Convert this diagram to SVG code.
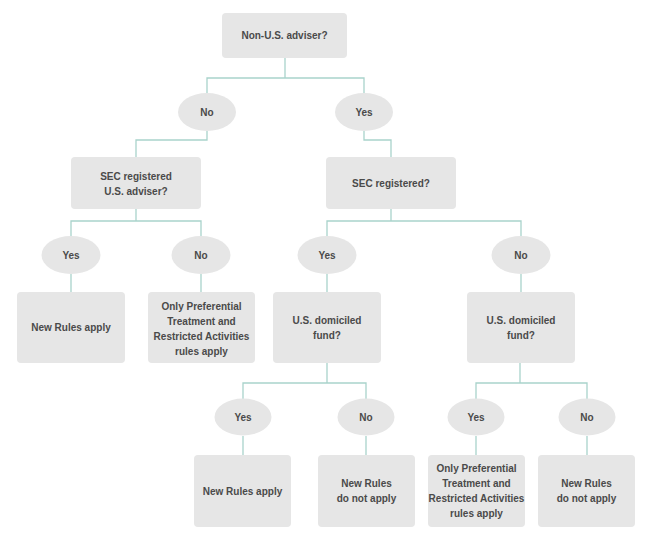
<svg xmlns="http://www.w3.org/2000/svg" width="650" height="542" viewBox="0 0 650 542">
<style>
.b{fill:#e6e6e6;}
.t{font-family:"Liberation Sans",Arial,sans-serif;font-size:10px;font-weight:bold;fill:#4a4a4a;text-anchor:middle;}
.c{fill:none;stroke:#a9d3cb;stroke-width:1.3;}
</style>
<rect width="650" height="542" fill="#ffffff"/>
<g id="connectors" class="c">
<path d="M285 58V78M207 93V78H364V93"/>
<path d="M207 131V140H136V157M364 131V140H391V157"/>
<path d="M136 209V221M71 236V221H201V236M71 274V292M201 274V292"/>
<path d="M391 209V221M327 236V221H521V236M327 274V292M521 274V292"/>
<path d="M327 363V383M243 399V383H366V399M243 436V455M366 436V455"/>
<path d="M520 363V383M476 399V383H587V399M476 436V455M587 436V455"/>
</g>
<g id="n-root"><rect class="b" x="222" y="13" width="125" height="45" rx="4"/><text class="t" x="284.5" y="39">Non-U.S. adviser?</text></g>
<g id="n-no1"><ellipse class="b" cx="207" cy="112" rx="29" ry="19"/><text class="t" x="207" y="115.5">No</text></g>
<g id="n-yes1"><ellipse class="b" cx="364" cy="112" rx="29" ry="19"/><text class="t" x="364" y="115.5">Yes</text></g>
<g id="n-secus"><rect class="b" x="71" y="157" width="130" height="52" rx="4"/><text class="t" x="136" y="179.5">SEC registered</text><text class="t" x="136" y="195">U.S. adviser?</text></g>
<g id="n-sec"><rect class="b" x="326" y="157" width="130" height="52" rx="4"/><text class="t" x="391" y="186.5">SEC registered?</text></g>
<g id="n-yes2"><ellipse class="b" cx="71" cy="255" rx="29.5" ry="19"/><text class="t" x="71" y="258.5">Yes</text></g>
<g id="n-no2"><ellipse class="b" cx="201" cy="255" rx="29.5" ry="19"/><text class="t" x="201" y="258.5">No</text></g>
<g id="n-yes3"><ellipse class="b" cx="327" cy="255" rx="29.5" ry="19"/><text class="t" x="327" y="258.5">Yes</text></g>
<g id="n-no3"><ellipse class="b" cx="521" cy="255" rx="29.5" ry="19"/><text class="t" x="521" y="258.5">No</text></g>
<g id="n-new1"><rect class="b" x="17" y="292" width="108" height="71" rx="4"/><text class="t" x="71" y="331">New Rules apply</text></g>
<g id="n-only1"><rect class="b" x="148" y="292" width="107" height="71" rx="4"/><text class="t" x="201.5" y="309.5">Only Preferential</text><text class="t" x="201.5" y="324.5">Treatment and</text><text class="t" x="201.5" y="339.5">Restricted Activities</text><text class="t" x="201.5" y="354.5">rules apply</text></g>
<g id="n-fund1"><rect class="b" x="273" y="292" width="108" height="71" rx="4"/><text class="t" x="327" y="324">U.S. domiciled</text><text class="t" x="327" y="339">fund?</text></g>
<g id="n-fund2"><rect class="b" x="467" y="292" width="108" height="71" rx="4"/><text class="t" x="521" y="324">U.S. domiciled</text><text class="t" x="521" y="339">fund?</text></g>
<g id="n-yes4"><ellipse class="b" cx="243" cy="417" rx="28.5" ry="18.5"/><text class="t" x="243" y="420.5">Yes</text></g>
<g id="n-no4"><ellipse class="b" cx="366" cy="417" rx="28.5" ry="18.5"/><text class="t" x="366" y="420.5">No</text></g>
<g id="n-yes5"><ellipse class="b" cx="476" cy="417" rx="28.5" ry="18.5"/><text class="t" x="476" y="420.5">Yes</text></g>
<g id="n-no5"><ellipse class="b" cx="587" cy="417" rx="28.5" ry="18.5"/><text class="t" x="587" y="420.5">No</text></g>
<g id="n-new2"><rect class="b" x="194" y="455" width="97" height="72" rx="4"/><text class="t" x="242.5" y="494.5">New Rules apply</text></g>
<g id="n-not1"><rect class="b" x="318" y="455" width="97" height="72" rx="4"/><text class="t" x="366.5" y="487">New Rules</text><text class="t" x="366.5" y="502">do not apply</text></g>
<g id="n-only2"><rect class="b" x="428" y="455" width="97" height="72" rx="4"/><text class="t" x="476.5" y="472">Only Preferential</text><text class="t" x="476.5" y="487">Treatment and</text><text class="t" x="476.5" y="502">Restricted Activities</text><text class="t" x="476.5" y="517">rules apply</text></g>
<g id="n-not2"><rect class="b" x="538" y="455" width="97" height="72" rx="4"/><text class="t" x="586.5" y="487">New Rules</text><text class="t" x="586.5" y="502">do not apply</text></g>
</svg>
